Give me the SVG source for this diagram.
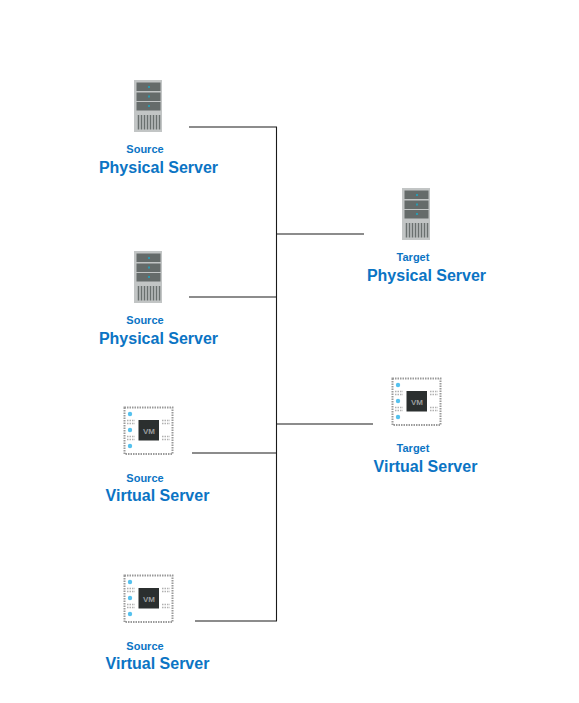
<svg xmlns="http://www.w3.org/2000/svg" xmlns:xlink="http://www.w3.org/1999/xlink" width="579" height="703" viewBox="0 0 579 703">
<style>
.small{font:bold 11px "Liberation Sans",Arial,sans-serif;fill:#0b74c4;text-anchor:middle}
.big{font:bold 16px "Liberation Sans",Arial,sans-serif;fill:#0b74c4;text-anchor:middle}
.conn{fill:none;stroke:#1a1a1a;stroke-width:1.1}
.dots{fill:none;stroke:#9a9a9a;stroke-width:2;stroke-dasharray:1.500 1}
.fine{fill:none;stroke:#b0b0b0;stroke-width:1.500;stroke-dasharray:1.500 1}
</style>
<defs>
<g id="srv">
<rect x="0" y="0" width="28" height="52" fill="#c2c5c5"/>
<rect x="2.500" y="2.500" width="24" height="8.500" fill="#656b6a"/>
<rect x="2.500" y="12.500" width="24" height="8.500" fill="#656b6a"/>
<rect x="2.500" y="22" width="24" height="8.500" fill="#656b6a"/>
<rect x="14" y="6" width="2" height="2" fill="#2b9bb0"/>
<rect x="14" y="15.500" width="2" height="2" fill="#2b9bb0"/>
<rect x="14" y="25" width="2" height="2" fill="#2b9bb0"/>
<path d="M4.500 35V49.500M7.500 35V49.500M10.500 35V49.500M13.500 35V49.500M16.500 35V49.500M19.500 35V49.500M22.500 35V49.500M25.500 35V49.500" stroke="#6a706f" stroke-width="1.500" fill="none"/>
</g>
<g id="vm">
<rect x="0.500" y="0.500" width="48" height="46.500" class="dots"/>
<circle cx="6" cy="7" r="2.200" fill="#55c1ee"/>
<circle cx="6" cy="23" r="2.200" fill="#55c1ee"/>
<circle cx="6" cy="39" r="2.200" fill="#55c1ee"/>
<path d="M3 13.500H11M3 16.500H11M3 29.500H11M3 32.500H11M38 13.500H46M38 16.500H46M38 29.500H46M38 32.500H46" class="fine"/>
<rect x="14.500" y="13" width="20.500" height="20.500" fill="#2b2f2f"/>
<text x="25" y="26.500" font-family="Liberation Sans,Arial,sans-serif" font-size="8" font-weight="bold" fill="#9a9d9d" text-anchor="middle">VM</text>
</g>
</defs>
<rect width="579" height="703" fill="#fff"/>
<g id="connectors">
<path class="conn" d="M189 127H276.500V621H195M189 297H276.500M192 453H276.500M276.500 234H364M276.500 424H373"/>
</g>
<g id="source-physical-1"><use href="#srv" x="134" y="80"/><text class="small" x="145" y="153">Source</text><text class="big" x="158.500" y="173">Physical Server</text></g>
<g id="source-physical-2"><use href="#srv" x="134" y="251"/><text class="small" x="145" y="324">Source</text><text class="big" x="158.500" y="344">Physical Server</text></g>
<g id="source-virtual-1"><use href="#vm" x="124" y="407"/><text class="small" x="145" y="482">Source</text><text class="big" x="157.500" y="501">Virtual Server</text></g>
<g id="source-virtual-2"><use href="#vm" x="124" y="575"/><text class="small" x="145" y="650">Source</text><text class="big" x="157.500" y="669">Virtual Server</text></g>
<g id="target-physical"><use href="#srv" x="402" y="188"/><text class="small" x="413" y="261">Target</text><text class="big" x="426.500" y="281">Physical Server</text></g>
<g id="target-virtual"><use href="#vm" x="392" y="378"/><text class="small" x="413" y="452">Target</text><text class="big" x="425.500" y="472">Virtual Server</text></g>
</svg>
